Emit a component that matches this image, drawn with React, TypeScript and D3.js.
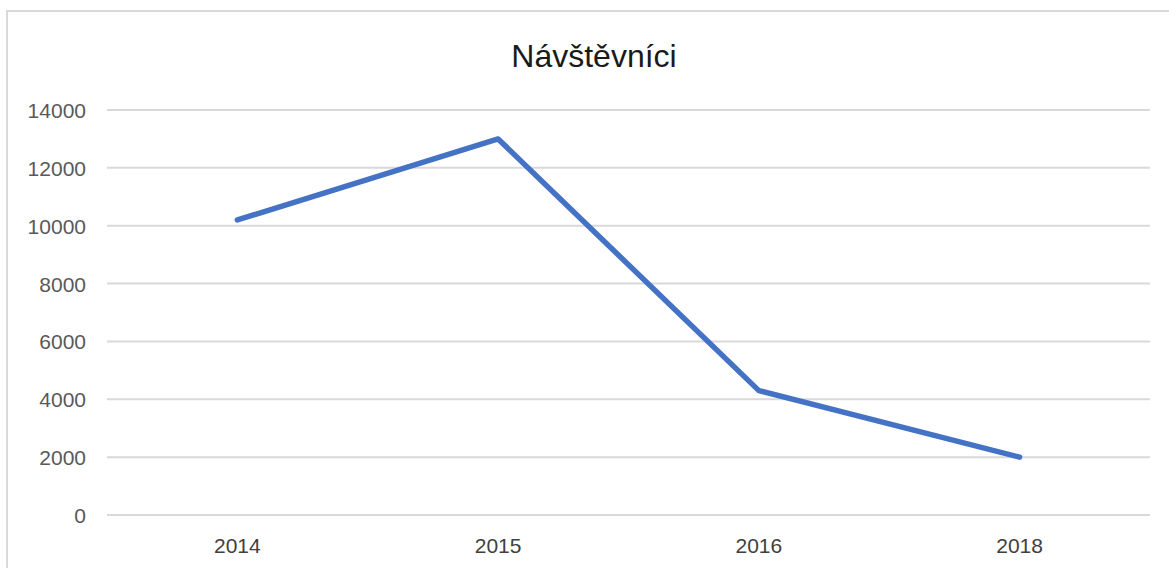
import React, { useRef, useEffect } from 'react';
import * as d3 from 'd3';

const YEARS: string[] = ['2014', '2015', '2016', '2018'];
const VISITORS: number[] = [10200, 13000, 4300, 2000];
const Y_TICKS: number[] = [0, 2000, 4000, 6000, 8000, 10000, 12000, 14000];
const TITLE = 'Návštěvníci';

const WIDTH = 1169;
const HEIGHT = 568;
const FONT = '"Liberation Sans", Arial, sans-serif';

export default function App() {
  const svgRef = useRef<SVGSVGElement>(null);

  useEffect(() => {
    const svg = d3.select(svgRef.current);
    svg.selectAll('*').remove();

    const margin = { top: 110, right: 19, bottom: 53, left: 107 };

    const x = d3.scaleBand<string>()
      .domain(YEARS)
      .range([margin.left, WIDTH - margin.right])
      .padding(0);

    const y = d3.scaleLinear()
      .domain([0, 14000])
      .range([HEIGHT - margin.bottom, margin.top]);

    // chart frame (right/bottom edges fall outside the picture)
    svg.append('rect')
      .attr('x', 7)
      .attr('y', 11)
      .attr('width', WIDTH + 20)
      .attr('height', HEIGHT + 20)
      .attr('fill', 'white')
      .attr('stroke', '#d9d9d9')
      .attr('stroke-width', 2);

    // title
    svg.append('text')
      .attr('x', 594)
      .attr('y', 67)
      .attr('text-anchor', 'middle')
      .attr('fill', '#1a1a1a')
      .attr('font-size', 32)
      .attr('font-family', FONT)
      .text(TITLE);

    // gridlines
    svg.append('g')
      .selectAll('line')
      .data(Y_TICKS)
      .join('line')
      .attr('x1', margin.left)
      .attr('x2', WIDTH - margin.right)
      .attr('y1', d => y(d))
      .attr('y2', d => y(d))
      .attr('stroke', '#d9d9d9')
      .attr('stroke-width', 2);

    // y axis labels
    svg.append('g')
      .attr('transform', `translate(${margin.left - 21},0)`)
      .call(d3.axisLeft(y).tickValues(Y_TICKS).tickSize(0).tickPadding(0).tickFormat(d => String(d)))
      .call(g => g.select('.domain').remove())
      .call(g => g.selectAll('.tick text')
        .attr('font-size', 21)
        .attr('font-family', FONT)
        .attr('fill', '#595959')
        .attr('dy', '0.36em'));

    // x axis labels
    svg.append('g')
      .attr('transform', `translate(0,${y(0)})`)
      .call(d3.axisBottom(x).tickSize(0).tickPadding(0))
      .call(g => g.select('.domain').remove())
      .call(g => g.selectAll('.tick text')
        .attr('font-size', 21)
        .attr('font-family', FONT)
        .attr('fill', '#404040')
        .attr('dy', 0)
        .attr('y', 38));

    // line
    const line = d3.line<number>()
      .x((_, i) => (x(YEARS[i]) ?? 0) + x.bandwidth() / 2)
      .y(d => y(d));

    svg.append('path')
      .datum(VISITORS)
      .attr('fill', 'none')
      .attr('stroke', '#4472c4')
      .attr('stroke-width', 5.5)
      .attr('stroke-linecap', 'round')
      .attr('stroke-linejoin', 'round')
      .attr('d', line);
  }, []);

  return (
    <svg
      ref={svgRef}
      width={WIDTH}
      height={HEIGHT}
      viewBox={`0 0 ${WIDTH} ${HEIGHT}`}
      style={{ position: 'absolute', top: 0, left: 0, display: 'block', background: 'white' }}
    />
  );
}
